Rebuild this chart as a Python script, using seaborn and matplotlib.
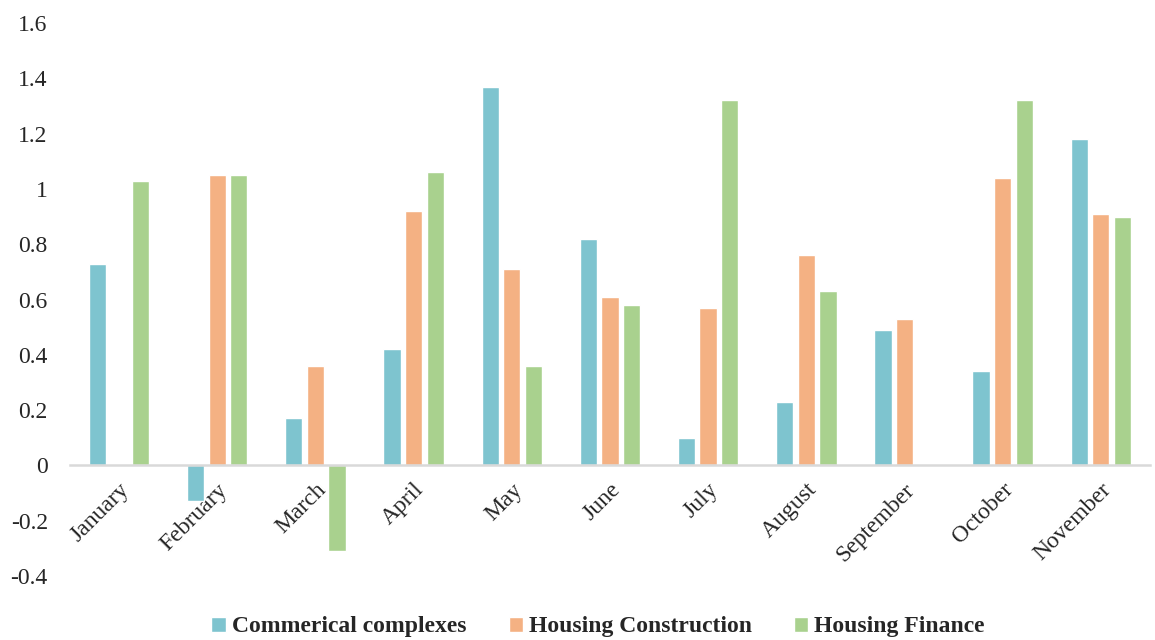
import matplotlib
matplotlib.use("Agg")
import matplotlib.pyplot as plt
import seaborn as sns
import pandas as pd

months = ["January", "February", "March", "April", "May", "June",
          "July", "August", "September", "October", "November"]
series_names = ["Commerical complexes", "Housing Construction", "Housing Finance"]
commercial = [0.73, -0.13, 0.17, 0.42, 1.37, 0.82, 0.10, 0.23, 0.49, 0.34, 1.18]
construction = [0.0, 1.05, 0.36, 0.92, 0.71, 0.61, 0.57, 0.76, 0.53, 1.04, 0.91]
finance = [1.03, 1.05, -0.31, 1.06, 0.36, 0.58, 1.32, 0.63, 0.0, 1.32, 0.90]
yticks = [-0.4, -0.2, 0, 0.2, 0.4, 0.6, 0.8, 1, 1.2, 1.4, 1.6]
colors = ["#7EC4CF", "#F4B183", "#A9D18E"]

rows = []
for name, vals in zip(series_names, [commercial, construction, finance]):
    for m, v in zip(months, vals):
        rows.append({"Month": m, "Series": name, "Value": v})
df = pd.DataFrame(rows)

sns.set_theme(style="white")
plt.rcParams["font.family"] = ["Liberation Serif", "DejaVu Serif"]

fig = plt.figure(figsize=(11.55, 6.4), dpi=100)
ax = fig.add_axes([0.0606, 0.1, 0.935, 0.864])

sns.barplot(data=df, x="Month", y="Value", hue="Series", order=months,
            hue_order=series_names, palette=colors, saturation=1,
            width=0.66, gap=0.2, edgecolor="white", linewidth=1,
            errorbar=None, ax=ax)

ax.set_ylim(-0.4, 1.6)
ax.set_xlim(-0.5, len(months) - 0.5)
ax.set_yticks(yticks)
ax.set_yticklabels([f"{t:g}" for t in yticks], fontsize=17)
ax.set_xlabel("")
ax.set_ylabel("")

for s in ["top", "right", "left"]:
    ax.spines[s].set_visible(False)
ax.spines["bottom"].set_position(("data", 0))
ax.spines["bottom"].set_color("#D9D9D9")
ax.spines["bottom"].set_linewidth(1.8)
ax.tick_params(axis="both", length=0)
ax.tick_params(axis="y", pad=16)
ax.tick_params(axis="x", pad=10)
for lbl in ax.get_xticklabels():
    lbl.set_rotation(45)
    lbl.set_ha("right")
    lbl.set_va("top")
    lbl.set_rotation_mode("anchor")
    lbl.set_fontsize(17)

leg = ax.legend(loc="center", bbox_to_anchor=(0.489, -0.092), ncol=3,
                frameon=False, handlelength=0.6, handleheight=0.6,
                handletextpad=0.25, columnspacing=1.8,
                prop={"family": "Liberation Serif", "weight": "bold", "size": 17})

fig.savefig("out.png", dpi=100)
